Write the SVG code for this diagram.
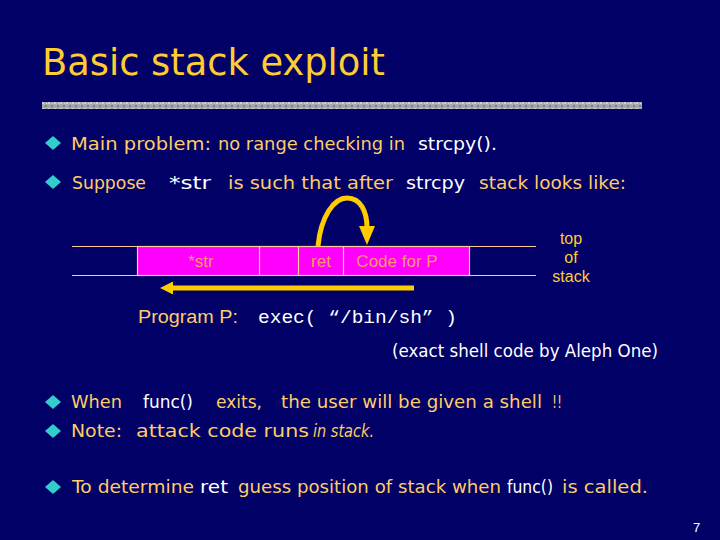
<svg xmlns="http://www.w3.org/2000/svg" width="720" height="540" viewBox="0 0 720 540">
<defs>
<style>
.bg{fill:#000066}
.c{font-family:"Comic Sans MS","DejaVu Sans",sans-serif}
.y{fill:#FFCC66}
.w{fill:#FFFFFF}
.b{font-size:18px}
.a{font-family:"Liberation Sans",Arial,sans-serif}
.m{font-family:"Liberation Mono","Courier New",monospace;font-size:19px;fill:#FFFFFF}
.dia{fill:#33CCCC}
.sl{stroke:#FFCC99;stroke-width:1.2;fill:none}
.box{fill:#FF00FF;stroke:#FFCC99;stroke-width:1.2}
.bt{font-family:"Liberation Sans",Arial,sans-serif;font-size:17px;fill:#FF9966;text-anchor:middle}
.arr{stroke:#FFCC00;stroke-width:5;fill:none;stroke-linecap:butt}
.ah{fill:#FFCC00}
.ts{font-family:"Liberation Sans",Arial,sans-serif;font-size:16px;fill:#FFCC33;text-anchor:middle}
</style>
<pattern id="spk" width="6" height="6" patternUnits="userSpaceOnUse">
<rect width="6" height="6" fill="#A8A8B0"/>
<rect x="0" y="0" width="2" height="2" fill="#D0D0D8"/>
<rect x="3" y="3" width="2" height="2" fill="#7C7C88"/>
<rect x="4" y="1" width="1" height="1" fill="#E0E0E6"/>
<rect x="1" y="4" width="1" height="1" fill="#909098"/>
</pattern>
</defs>
<rect class="bg" x="0" y="0" width="720" height="540"/>

<g id="title">
<text class="c" x="42" y="75" font-size="38" fill="#FFCC33" textLength="343" lengthAdjust="spacingAndGlyphs">Basic stack exploit</text>
<rect x="42" y="102" width="600" height="7" fill="url(#spk)"/>
</g>

<g id="bullet1">
<polygon class="dia" points="53,136 61,143 53,150 45,143"/>
<text class="c b y" x="71" y="150" textLength="140" lengthAdjust="spacingAndGlyphs">Main problem:</text>
<text class="c b y" x="218" y="150" textLength="187" lengthAdjust="spacingAndGlyphs">no range checking in</text>
<text class="c b w" x="418" y="150" textLength="79" lengthAdjust="spacingAndGlyphs">strcpy().</text>
</g>

<g id="bullet2">
<polygon class="dia" points="53,175 61,182 53,189 45,182"/>
<text class="c b y" x="72" y="189" textLength="74" lengthAdjust="spacingAndGlyphs">Suppose</text>
<text class="c b w" x="169" y="189" textLength="42" lengthAdjust="spacingAndGlyphs">*str</text>
<text class="c b y" x="228" y="189" textLength="165" lengthAdjust="spacingAndGlyphs">is such that after</text>
<text class="c b w" x="406" y="189" textLength="59" lengthAdjust="spacingAndGlyphs">strcpy</text>
<text class="c b y" x="479" y="189" textLength="147" lengthAdjust="spacingAndGlyphs">stack looks like:</text>
</g>

<g id="stack">
<line class="sl" x1="72" y1="246.5" x2="536" y2="246.5"/>
<line class="sl" x1="72" y1="275.5" x2="536" y2="275.5"/>
<rect class="box" x="137.5" y="246.5" width="332" height="29"/>
<line class="sl" x1="259.5" y1="246.5" x2="259.5" y2="275.5"/>
<line class="sl" x1="298.5" y1="246.5" x2="298.5" y2="275.5"/>
<line class="sl" x1="343.5" y1="246.5" x2="343.5" y2="275.5"/>
</g>
<g id="cell-str"><text class="bt" x="201" y="267">*str</text></g>
<g id="cell-ret"><text class="bt" x="321" y="267">ret</text></g>
<g id="cell-code"><text class="bt" x="397" y="267">Code for P</text></g>

<g id="top-of-stack">
<text class="ts" x="571" y="244">top</text>
<text class="ts" x="571" y="263">of</text>
<text class="ts" x="571" y="282">stack</text>
</g>

<g id="connectors">
<path class="arr" d="M318,246 C321,216 334,198 347,198 C361,198 367,212 367,228"/>
<polygon class="ah" points="359,226 375,226 367,245"/>
<line class="arr" x1="414" y1="288" x2="170" y2="288"/>
<polygon class="ah" points="160,288 173,281.5 173,294.5"/>
</g>

<g id="program">
<text class="a" font-size="18" fill="#FFCC66" x="138" y="323" textLength="100" lengthAdjust="spacingAndGlyphs">Program P:</text>
<text class="m" x="258" y="323" textLength="199" lengthAdjust="spacingAndGlyphs">exec( “/bin/sh” )</text>
<text class="c w" font-size="17" x="392" y="357" textLength="266" lengthAdjust="spacingAndGlyphs">(exact shell code by Aleph One)</text>
</g>

<g id="bullet3">
<polygon class="dia" points="53,395 61,402 53,409 45,402"/>
<text class="c b y" x="71" y="408" textLength="51" lengthAdjust="spacingAndGlyphs">When</text>
<text class="c b w" x="143" y="408" textLength="50" lengthAdjust="spacingAndGlyphs">func()</text>
<text class="c b y" x="216" y="408" textLength="46" lengthAdjust="spacingAndGlyphs">exits,</text>
<text class="c b y" x="281" y="408" textLength="261" lengthAdjust="spacingAndGlyphs">the user will be given a shell</text>
<text class="c b y" x="552" y="408" textLength="10" lengthAdjust="spacingAndGlyphs">!!</text>
</g>

<g id="bullet4">
<polygon class="dia" points="53,424 61,431 53,438 45,431"/>
<text class="c b y" x="71" y="437" textLength="51" lengthAdjust="spacingAndGlyphs">Note:</text>
<text class="c b y" x="136" y="437" textLength="173" lengthAdjust="spacingAndGlyphs">attack code runs</text>
<text class="c b y" x="313" y="437" font-style="italic" textLength="61" lengthAdjust="spacingAndGlyphs">in stack.</text>
</g>

<g id="bullet5">
<polygon class="dia" points="53,480 61,487 53,494 45,487"/>
<text class="c b y" x="72" y="493" textLength="122" lengthAdjust="spacingAndGlyphs">To determine</text>
<text class="c b w" x="200" y="493" textLength="28" lengthAdjust="spacingAndGlyphs">ret</text>
<text class="c b y" x="238" y="493" textLength="263" lengthAdjust="spacingAndGlyphs">guess position of stack when</text>
<text class="c b w" x="507" y="493" textLength="46" lengthAdjust="spacingAndGlyphs">func()</text>
<text class="c b y" x="562" y="493" textLength="86" lengthAdjust="spacingAndGlyphs">is called.</text>
</g>

<g id="page-number">
<text class="a" font-size="13" fill="#FFFFFF" x="693" y="532">7</text>
</g>
</svg>
